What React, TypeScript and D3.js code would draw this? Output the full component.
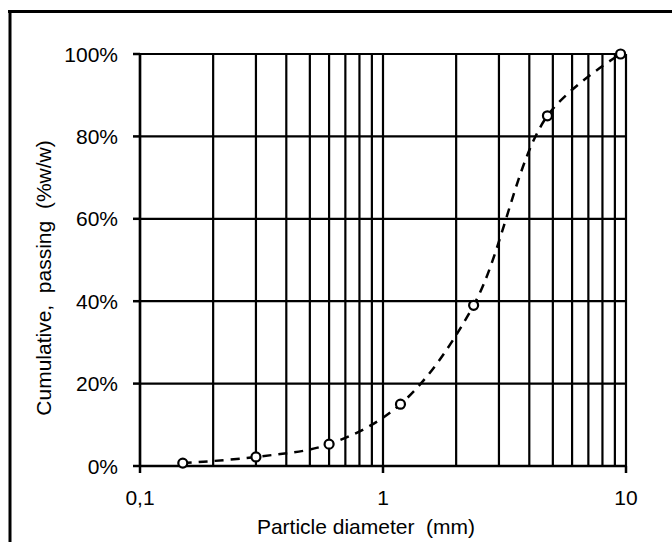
import React from "react";
import * as d3 from "d3";

const sieveSizes = [0.15, 0.3, 0.6, 1.18, 2.36, 4.75, 9.5];
const passing = [0.7, 2.2, 5.3, 15, 39, 85, 100];
const xTickValues = [0.1, 1, 10];
const xTickLabels = ["0,1", "1", "10"];
const yTickValues = [0, 20, 40, 60, 80, 100];
const yTickLabels = ["0%", "20%", "40%", "60%", "80%", "100%"];
const xTitle = "Particle diameter\u00a0\u00a0(mm)";
const yTitle = "Cumulative,\u00a0\u00a0passing\u00a0\u00a0(%w/w)";

const W = 672;
const H = 542;
const L = 140, R = 626, T = 54, B = 466;
const FONT = "'Liberation Sans', Arial, sans-serif";
const FS = 21;

export default function App() {
  const x = d3.scaleLog().domain([0.1, 10]).range([L, R]);
  const y = d3.scaleLinear().domain([0, 100]).range([B, T]);

  const vGrid: number[] = [];
  for (let k = -1; k <= 0; k++) {
    for (let i = 1; i <= 9; i++) vGrid.push(i * Math.pow(10, k));
  }
  vGrid.push(10);

  const pts = sieveSizes.map((s, i) => [x(s), y(passing[i])] as [number, number]);
  const line = d3.line().curve(d3.curveCatmullRom.alpha(0.5));
  const path = line(pts) || "";

  return (
    <svg width={W} height={H} style={{ position: "absolute", left: 0, top: 0, background: "#fff" }}>
      <rect x={0} y={0} width={W} height={H} fill="#fff" />
      {/* frame */}
      <line x1={8} x2={W} y1={11.5} y2={11.5} stroke="#000" strokeWidth={3} />
      <line x1={10} x2={10} y1={10} y2={H} stroke="#000" strokeWidth={3} />

      {/* vertical grid */}
      {vGrid.map((v, i) => (
        <line key={"v" + i} x1={x(v)} x2={x(v)} y1={T} y2={B} stroke="#000" strokeWidth={2.2} />
      ))}
      {/* horizontal grid */}
      {yTickValues.map((v, i) => (
        <line key={"h" + i} x1={L} x2={R} y1={y(v)} y2={y(v)} stroke="#000" strokeWidth={2.2} />
      ))}
      {/* axis lines */}
      <line x1={L} x2={L} y1={T} y2={B} stroke="#000" strokeWidth={2.5} />
      <line x1={L} x2={R} y1={B} y2={B} stroke="#000" strokeWidth={2.5} />

      {/* y ticks */}
      {yTickValues.map((v, i) => (
        <g key={"yt" + i}>
          <line x1={L - 7} x2={L} y1={y(v)} y2={y(v)} stroke="#000" strokeWidth={2.5} />
          <text x={118} y={y(v)} dy="0.36em" textAnchor="end" fontFamily={FONT} fontSize={FS} fill="#000">
            {yTickLabels[i]}
          </text>
        </g>
      ))}
      {/* x ticks */}
      {xTickValues.map((v, i) => (
        <g key={"xt" + i}>
          <line x1={x(v)} x2={x(v)} y1={B} y2={B + 7} stroke="#000" strokeWidth={2.5} />
          <text x={x(v)} y={505} textAnchor="middle" fontFamily={FONT} fontSize={FS} fill="#000">
            {xTickLabels[i]}
          </text>
        </g>
      ))}

      {/* titles */}
      <text x={366} y={534} textAnchor="middle" fontFamily={FONT} fontSize={FS} fill="#000">
        {xTitle}
      </text>
      <text
        transform={`translate(51, 278) rotate(-90)`}
        textAnchor="middle"
        fontFamily={FONT}
        fontSize={FS}
        fill="#000"
      >
        {yTitle}
      </text>

      {/* curve */}
      <path d={path} fill="none" stroke="#000" strokeWidth={2.5} strokeDasharray="9,7" />
      {pts.map((p, i) => (
        <circle key={"c" + i} cx={p[0]} cy={p[1]} r={4.5} fill="#fff" stroke="#000" strokeWidth={2.2} />
      ))}
    </svg>
  );
}
